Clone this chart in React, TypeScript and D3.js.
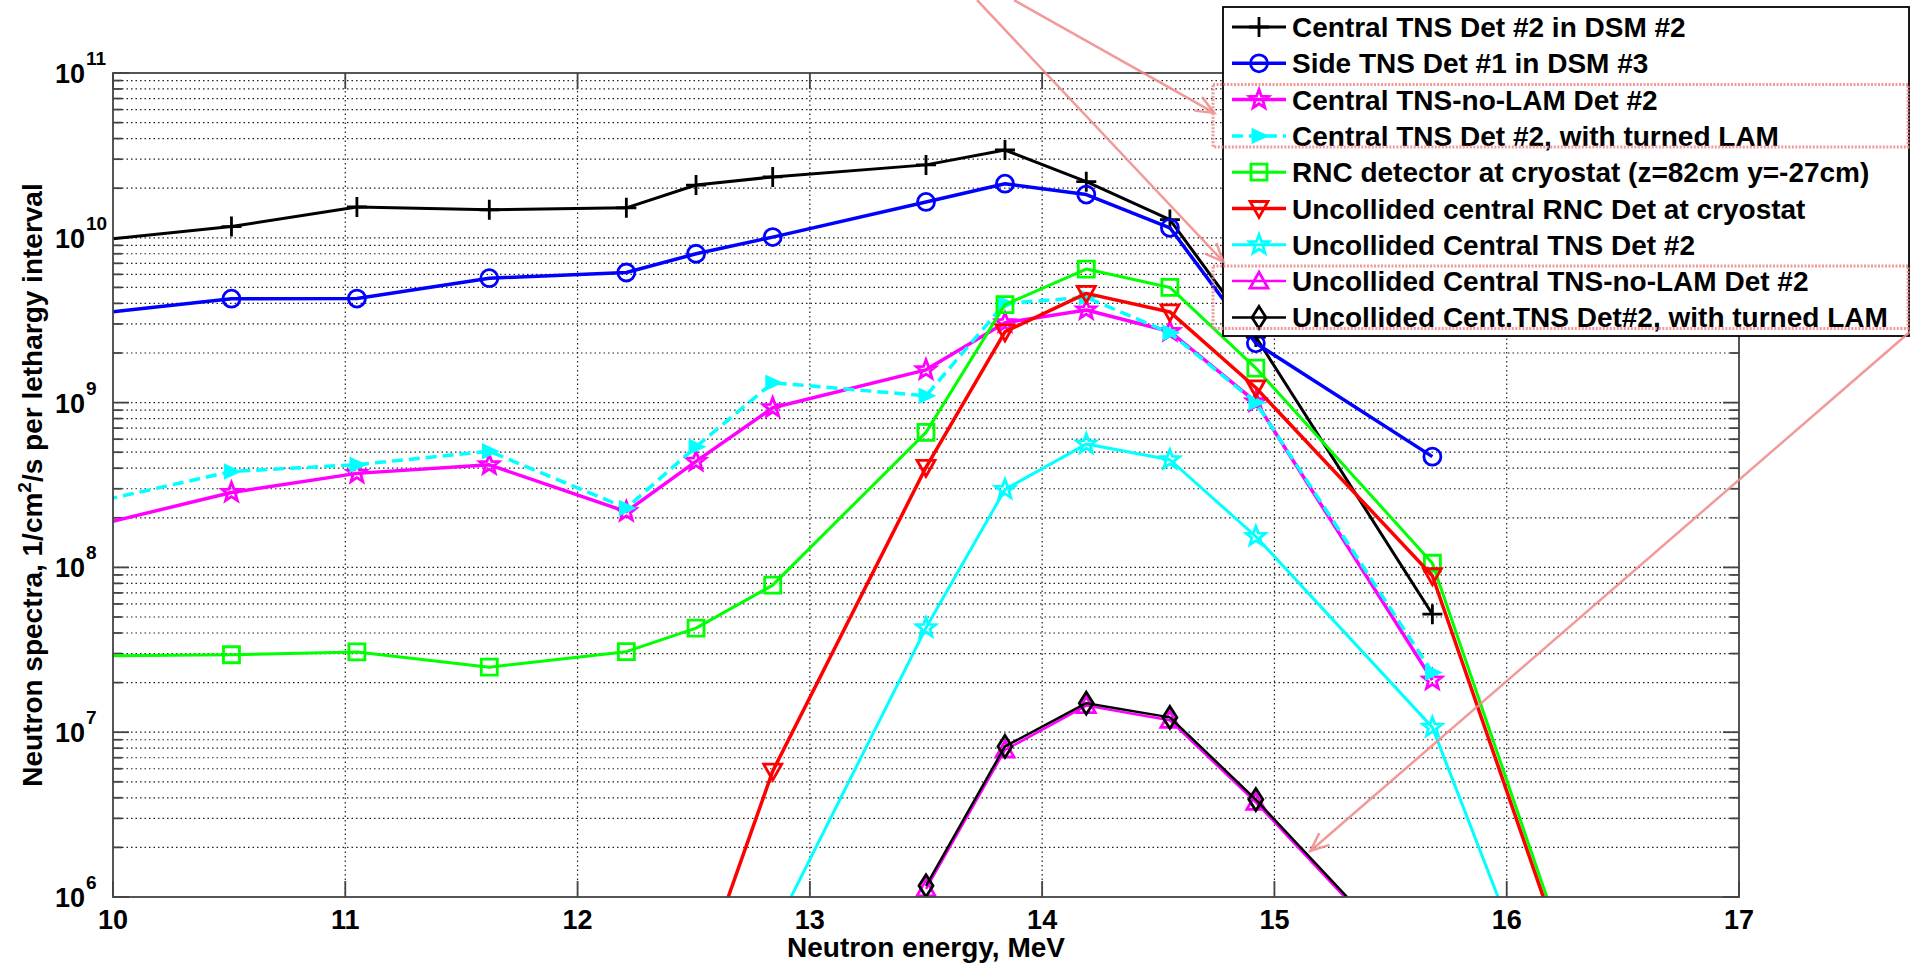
import React, { useEffect, useRef } from "react";
import * as d3 from "d3";

const W = 1910;
const H = 965;

// energy grids (MeV)
const eMain = [9.9, 10.51, 11.05, 11.62, 12.21, 12.51, 12.84, 13.5, 13.84, 14.19, 14.55, 14.92, 15.68];
const eRnc = [9.9, 10.51, 11.05, 11.62, 12.21, 12.51, 12.84, 13.5, 13.84, 14.19, 14.55, 14.92, 15.68, 16.5];
const eUncRnc = [12.51, 12.84, 13.5, 13.84, 14.19, 14.55, 14.92, 15.68, 16.5];
const eUncTns = [12.84, 13.5, 13.84, 14.19, 14.55, 14.92, 15.68, 16.5];
const eUncLam = [13.5, 13.84, 14.19, 14.55, 14.92, 15.68];

// spectra, 1/cm2/s per lethargy interval
const centralTns = [9.55e9, 1.17e10, 1.54e10, 1.48e10, 1.52e10, 2.09e10, 2.34e10, 2.77e10, 3.41e10, 2.19e10, 1.29e10, 2.5e9, 5.2e7];
const sideTns = [3.44e9, 4.27e9, 4.28e9, 5.69e9, 6.16e9, 8.0e9, 1.01e10, 1.65e10, 2.13e10, 1.83e10, 1.15e10, 2.29e9, 4.7e8];
const noLam = [1.76e8, 2.85e8, 3.72e8, 4.19e8, 2.18e8, 4.4e8, 9.3e8, 1.58e9, 3.05e9, 3.65e9, 2.7e9, 1.01e9, 2.07e7];
const turnedLam = [2.45e8, 3.82e8, 4.2e8, 5.07e8, 2.29e8, 5.4e8, 1.32e9, 1.1e9, 4.0e9, 4.35e9, 2.65e9, 1.0e9, 2.3e7];
const rncCryo = [2.9e7, 2.95e7, 3.07e7, 2.48e7, 3.08e7, 4.28e7, 7.8e7, 6.6e8, 3.93e9, 6.46e9, 5.0e9, 1.62e9, 1.06e8, 4.5e4];
const uncRnc = [2.8e5, 5.8e6, 4.05e8, 2.69e9, 4.6e9, 3.55e9, 1.23e9, 8.9e7, 4e4];
const uncTns = [6e5, 4.3e7, 2.97e8, 5.6e8, 4.5e8, 1.54e8, 1.07e7, 1.1e4];
const uncNoLam = [1.12e6, 7.8e6, 1.45e7, 1.18e7, 3.75e6, 2.7e5];
const uncTurned = [1.17e6, 8.2e6, 1.5e7, 1.23e7, 3.9e6, 2.8e5];

const legendLabels = [
  "Central TNS Det #2 in DSM #2",
  "Side TNS Det #1 in DSM #3",
  "Central TNS-no-LAM Det #2",
  "Central TNS Det #2, with turned LAM",
  "RNC detector at cryostat (z=82cm y=-27cm)",
  "Uncollided central RNC Det at cryostat",
  "Uncollided Central TNS Det #2",
  "Uncollided Central TNS-no-LAM Det #2",
  "Uncollided Cent.TNS Det#2, with turned LAM",
];

const xTicks = [10, 11, 12, 13, 14, 15, 16, 17];
const yDecades = [6, 7, 8, 9, 10, 11];

// annotation arrows, [energy, log10 flux] start -> end
const arrows = [
  [[13.879, 11.442], [14.741, 10.758]],
  [[13.72, 11.442], [14.78, 9.855]],
  [[17.746, 9.442], [15.155, 6.279]],
];

const star = (r: number) => {
  const pts: string[] = [];
  for (let i = 0; i < 10; i++) {
    const a = -Math.PI / 2 + (i * Math.PI) / 5;
    const rr = i % 2 === 0 ? r : r * 0.42;
    pts.push(`${(rr * Math.cos(a)).toFixed(2)},${(rr * Math.sin(a)).toFixed(2)}`);
  }
  return "M" + pts.join("L") + "Z";
};

const circlePath = (r: number) => {
  const p = d3.path();
  p.arc(0, 0, r, 0, Math.PI * 2);
  return p.toString();
};

const markers: Record<string, string> = {
  plus: "M-10,0H10M0,-10V10",
  circle: circlePath(8.5),
  star: star(10),
  tright: "M-6,-6L7,0L-6,6Z",
  square: "M-8,-8H8V8H-8Z",
  tdown: "M-9,-7H9L0,9Z",
  tup: "M-9,7H9L0,-9Z",
  diamond: "M0,-11L7,0L0,11L-7,0Z",
};

const series = [
  { xs: eMain, ys: centralTns, color: "#000000", lw: 3, dash: null, marker: "plus", fill: false },
  { xs: eMain, ys: sideTns, color: "#0000ff", lw: 3.5, dash: null, marker: "circle", fill: false },
  { xs: eMain, ys: noLam, color: "#ff00ff", lw: 3.5, dash: null, marker: "star", fill: false },
  { xs: eMain, ys: turnedLam, color: "#00ffff", lw: 3.5, dash: "11,6", marker: "tright", fill: true },
  { xs: eRnc, ys: rncCryo, color: "#00ff00", lw: 3, dash: null, marker: "square", fill: false },
  { xs: eUncRnc, ys: uncRnc, color: "#ff0000", lw: 3.5, dash: null, marker: "tdown", fill: false },
  { xs: eUncTns, ys: uncTns, color: "#00ffff", lw: 3, dash: null, marker: "star", fill: false },
  { xs: eUncLam, ys: uncNoLam, color: "#ff00ff", lw: 2.5, dash: null, marker: "tup", fill: false },
  { xs: eUncLam, ys: uncTurned, color: "#000000", lw: 2.5, dash: null, marker: "diamond", fill: false },
];

const FONT = "Arial, 'Liberation Sans', Helvetica, sans-serif";

export default function App() {
  const svgRef = useRef<SVGSVGElement>(null);

  useEffect(() => {
    document.body.style.margin = "0";
    document.body.style.overflow = "hidden";
    const svg = d3.select(svgRef.current);
    svg.selectAll("*").remove();

    const x = d3.scaleLinear().domain([10, 17]).range([113, 1739]);
    const y = d3.scaleLog().domain([1e6, 1e11]).range([897, 73]);
    const [x0, x1] = x.range();
    const [y0, y1] = [y(1e11), y(1e6)];

    svg.append("rect").attr("width", W).attr("height", H).attr("fill", "#fff");

    svg.append("defs").append("clipPath").attr("id", "plotclip")
      .append("rect").attr("x", x0).attr("y", y0).attr("width", x1 - x0).attr("height", y1 - y0);

    // grid
    const grid = svg.append("g").attr("stroke", "#222").attr("stroke-width", 1.2).attr("stroke-dasharray", "1.5,3");
    xTicks.slice(1, -1).forEach((t) => {
      grid.append("line").attr("x1", x(t)).attr("x2", x(t)).attr("y1", y0).attr("y2", y1);
    });
    const minorVals: number[] = [];
    yDecades.slice(0, -1).forEach((d) => {
      for (let m = 1; m <= 9; m++) minorVals.push(m * Math.pow(10, d));
    });
    minorVals.forEach((v) => {
      if (v <= 1e6) return;
      grid.append("line").attr("x1", x0).attr("x2", x1).attr("y1", y(v)).attr("y2", y(v));
    });

    // ticks
    const ticks = svg.append("g").attr("stroke", "#444").attr("stroke-width", 1.8);
    minorVals.concat([1e11]).forEach((v) => {
      const major = Math.abs(Math.log10(v) - Math.round(Math.log10(v))) < 1e-9;
      const len = major ? 16 : 9;
      ticks.append("line").attr("x1", x0).attr("x2", x0 + len).attr("y1", y(v)).attr("y2", y(v));
      ticks.append("line").attr("x1", x1).attr("x2", x1 - len).attr("y1", y(v)).attr("y2", y(v));
    });
    xTicks.forEach((t) => {
      ticks.append("line").attr("x1", x(t)).attr("x2", x(t)).attr("y1", y1).attr("y2", y1 - 16);
      ticks.append("line").attr("x1", x(t)).attr("x2", x(t)).attr("y1", y0).attr("y2", y0 + 16);
    });

    // data
    const plot = svg.append("g").attr("clip-path", "url(#plotclip)");
    const line = d3.line<[number, number]>().x((d) => x(d[0])).y((d) => y(d[1]));
    series.forEach((s) => {
      const pts = s.xs.map((e, i) => [e, s.ys[i]] as [number, number]);
      plot.append("path").datum(pts).attr("d", line)
        .attr("fill", "none").attr("stroke", s.color).attr("stroke-width", s.lw)
        .attr("stroke-linejoin", "round")
        .attr("stroke-dasharray", s.dash);
      pts.forEach((p) => {
        plot.append("path").attr("d", markers[s.marker])
          .attr("transform", `translate(${x(p[0])},${y(p[1])})`)
          .attr("fill", s.fill ? s.color : "none")
          .attr("stroke", s.color).attr("stroke-width", 2.8)
          .attr("stroke-linejoin", "miter");
      });
    });

    // axes box
    svg.append("rect").attr("x", x0).attr("y", y0).attr("width", x1 - x0).attr("height", y1 - y0)
      .attr("fill", "none").attr("stroke", "#444").attr("stroke-width", 1.8);

    // tick labels
    const labels = svg.append("g").attr("font-family", FONT).attr("font-weight", "bold").attr("fill", "#000");
    xTicks.forEach((t) => {
      labels.append("text").attr("x", x(t)).attr("y", 929).attr("text-anchor", "middle")
        .attr("font-size", 27).text(t);
    });
    yDecades.forEach((d) => {
      const yy = y(Math.pow(10, d));
      labels.append("text").attr("x", x0 - 28).attr("y", yy + 10).attr("text-anchor", "end")
        .attr("font-size", 27).text("10");
      labels.append("text").attr("x", x0 - 27).attr("y", yy - 8).attr("text-anchor", "start")
        .attr("font-size", 19).text(d);
    });

    // axis titles
    labels.append("text").attr("x", (x0 + x1) / 2).attr("y", 957).attr("text-anchor", "middle")
      .attr("font-size", 28).text("Neutron energy, MeV");
    const yt = labels.append("text")
      .attr("transform", `translate(42,${(y0 + y1) / 2}) rotate(-90)`)
      .attr("text-anchor", "middle").attr("font-size", 28);
    yt.append("tspan").text("Neutron spectra, 1/cm");
    yt.append("tspan").attr("font-size", 19).attr("dy", -11).text("2");
    yt.append("tspan").attr("dy", 11).text("/s per lethargy interval");

    // legend
    const lg = { x: 1223, y: 7, w: 686, h: 329, row0: 27, step: 36.3 };
    svg.append("rect").attr("x", lg.x).attr("y", lg.y).attr("width", lg.w).attr("height", lg.h)
      .attr("fill", "#fff").attr("stroke", "#000").attr("stroke-width", 1.8);
    series.forEach((s, i) => {
      const cy = lg.row0 + i * lg.step;
      svg.append("line").attr("x1", lg.x + 9).attr("x2", lg.x + 63).attr("y1", cy).attr("y2", cy)
        .attr("stroke", s.color).attr("stroke-width", s.lw).attr("stroke-dasharray", s.dash);
      svg.append("path").attr("d", markers[s.marker])
        .attr("transform", `translate(${lg.x + 36},${cy})`)
        .attr("fill", s.fill ? s.color : "none").attr("stroke", s.color).attr("stroke-width", 2.8);
      svg.append("text").attr("x", lg.x + 69).attr("y", cy + 10)
        .attr("font-family", FONT).attr("font-weight", "bold").attr("font-size", 28)
        .attr("fill", "#000").text(legendLabels[i]);
    });

    // highlight boxes around legend rows
    const ann = svg.append("g").attr("fill", "none").attr("stroke", "#f08888").attr("opacity", 0.85);
    [[2, 3], [7, 8]].forEach(([a, b]) => {
      const top = lg.row0 + a * lg.step - 15;
      const bot = lg.row0 + b * lg.step + 11;
      ann.append("rect").attr("x", lg.x - 10).attr("y", top).attr("width", lg.w + 9).attr("height", bot - top)
        .attr("stroke-width", 3).attr("stroke-dasharray", "2,1.5");
    });

    // arrows
    arrows.forEach(([s, e]) => {
      const sx = x(s[0]), sy = y(Math.pow(10, s[1]));
      const ex = x(e[0]), ey = y(Math.pow(10, e[1]));
      ann.append("line").attr("x1", sx).attr("y1", sy).attr("x2", ex).attr("y2", ey).attr("stroke-width", 2.5);
      const ang = Math.atan2(ey - sy, ex - sx);
      const L = 20, spread = 0.4;
      const p1 = [ex - L * Math.cos(ang - spread), ey - L * Math.sin(ang - spread)];
      const p2 = [ex - L * Math.cos(ang + spread), ey - L * Math.sin(ang + spread)];
      ann.append("path").attr("d", `M${p1[0]},${p1[1]}L${ex},${ey}L${p2[0]},${p2[1]}`).attr("stroke-width", 2.5);
    });
  }, []);

  return <svg ref={svgRef} width={W} height={H} style={{ display: "block" }} />;
}
